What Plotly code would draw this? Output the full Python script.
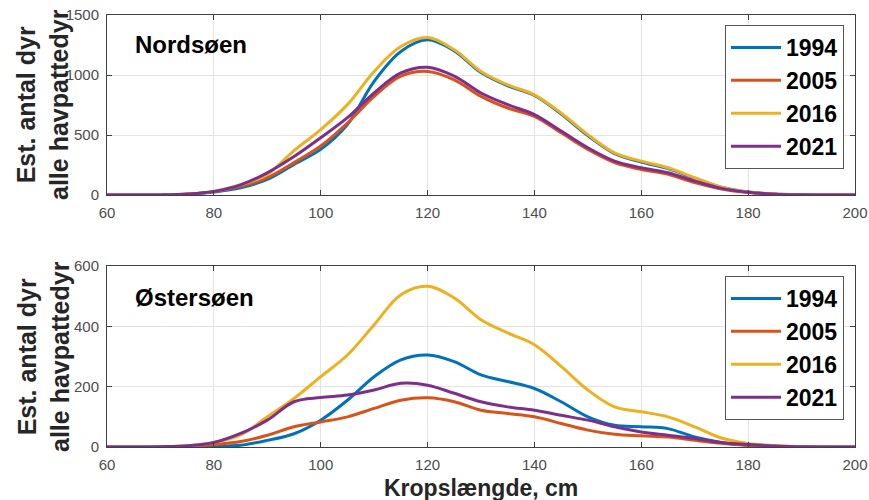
import plotly.graph_objects as go

length_cm = [60, 65, 70, 75, 80, 85, 90, 95, 100, 105, 110, 115, 120, 125, 130, 135, 140,
             145, 150, 155, 160, 165, 170, 175, 180, 185, 190, 195, 200]
years = ["1994", "2005", "2016", "2021"]

nord_1994 = [0, 0, 1, 6, 25, 60, 130, 255, 380, 587, 947, 1196, 1293, 1200, 1020, 910, 830,
             675, 495, 345, 275, 220, 140, 65, 25, 8, 2, 0, 0]
nord_2005 = [0, 0, 1, 7, 28, 72, 144, 270, 408, 600, 822, 990, 1030, 960, 822, 725, 656,
             518, 380, 270, 213, 172, 103, 50, 20, 6, 2, 0, 0]
nord_2016 = [0, 0, 1, 8, 30, 85, 172, 370, 545, 753, 1030, 1237, 1312, 1210, 1030, 918, 835,
             683, 503, 351, 282, 227, 144, 66, 25, 8, 2, 0, 0]
nord_2021 = [0, 0, 1, 8, 30, 85, 185, 320, 477, 644, 850, 1017, 1064, 990, 850, 753, 670,
             533, 394, 283, 227, 186, 116, 55, 22, 7, 2, 0, 0]

oest_1994 = [0, 0, 0, 0, 2, 6, 22, 44, 89, 155, 233, 289, 305, 283, 239, 217, 194,
             150, 100, 72, 67, 61, 33, 15, 6, 2, 1, 0, 0]
oest_2005 = [0, 0, 0, 2, 8, 18, 39, 67, 83, 100, 128, 155, 163, 150, 122, 111, 100,
             78, 56, 42, 37, 33, 22, 12, 5, 2, 1, 0, 0]
oest_2016 = [0, 0, 1, 4, 15, 40, 100, 161, 233, 305, 405, 505, 533, 494, 422, 378, 339,
             267, 189, 133, 117, 100, 67, 30, 12, 5, 1, 0, 0]
oest_2021 = [0, 0, 1, 4, 15, 45, 89, 150, 164, 172, 189, 211, 205, 178, 150, 133, 122,
             105, 89, 67, 50, 39, 28, 15, 8, 3, 1, 0, 0]

colors = ["#0072BD", "#D95319", "#EDB120", "#7E2F8E"]
FONT = "Arial, Liberation Sans, sans-serif"

W, H = 869, 500


def px(xa):
    return xa / W


def py(ya):
    return 1 - ya / H


fig = go.Figure()
for name, ys, c in zip(years, [nord_1994, nord_2005, nord_2016, nord_2021], colors):
    fig.add_trace(go.Scatter(x=length_cm, y=ys, name=name, mode="lines",
                             line=dict(color=c, width=3, shape="spline", smoothing=1.0),
                             xaxis="x", yaxis="y", legend="legend"))
for name, ys, c in zip(years, [oest_1994, oest_2005, oest_2016, oest_2021], colors):
    fig.add_trace(go.Scatter(x=length_cm, y=ys, name=name, mode="lines",
                             line=dict(color=c, width=3, shape="spline", smoothing=1.0),
                             xaxis="x2", yaxis="y2", legend="legend2"))

axis_common = dict(showline=True, linecolor="#404040", linewidth=1, mirror="allticks",
                   ticks="inside", ticklen=5, tickcolor="#404040", automargin=False,
                   showgrid=True, gridcolor="#e3e3e3", gridwidth=1, zeroline=False,
                   ticklabelstandoff=4, ticklabeloverflow="allow",
                   tickfont=dict(family=FONT, size=15, color="#4d4d4d"))

xdom = [px(107), px(855)]
xticks = [60, 80, 100, 120, 140, 160, 180, 200]

legend_common = dict(font=dict(family=FONT, size=23, color="black", weight="bold"),
                     bgcolor="white", bordercolor="#555555", borderwidth=1,
                     xanchor="left", yanchor="top", tracegroupgap=0, itemwidth=50)

ytitle_text = "<b>Est. antal dyr<br>alle havpattedyr</b>"
title_font = dict(family=FONT, size=25, color="#262626")

fig.update_layout(
    width=W, height=H,
    margin=dict(l=0, r=0, t=0, b=0),
    paper_bgcolor="white", plot_bgcolor="white",
    showlegend=True,
    xaxis=dict(domain=xdom, anchor="y", range=[60, 200], tickvals=xticks, **axis_common),
    yaxis=dict(domain=[py(195), py(15)], anchor="x", range=[0, 1500],
               tickvals=[0, 500, 1000, 1500], **axis_common),
    xaxis2=dict(domain=xdom, anchor="y2", range=[60, 200], tickvals=xticks, **axis_common),
    yaxis2=dict(domain=[py(447), py(266)], anchor="x2", range=[0, 600],
                tickvals=[0, 200, 400, 600], **axis_common),
    legend=dict(x=px(725), y=py(25), **legend_common),
    legend2=dict(x=px(725), y=py(276), **legend_common),
    annotations=[
        dict(text="<b>Nordsøen</b>", x=px(133), y=py(45), xref="paper", yref="paper",
             xanchor="left", yanchor="middle", showarrow=False,
             font=dict(family=FONT, size=24, color="black")),
        dict(text="<b>Østersøen</b>", x=px(133), y=py(297), xref="paper", yref="paper",
             xanchor="left", yanchor="middle", showarrow=False,
             font=dict(family=FONT, size=24, color="black")),
        dict(text=ytitle_text, x=px(43), y=py(105), xref="paper", yref="paper",
             xanchor="center", yanchor="middle", textangle=-90, showarrow=False,
             font=title_font),
        dict(text=ytitle_text, x=px(43), y=py(357), xref="paper", yref="paper",
             xanchor="center", yanchor="middle", textangle=-90, showarrow=False,
             font=title_font),
        dict(text="<b>Kropslængde, cm</b>", x=px(481), y=py(488), xref="paper", yref="paper",
             xanchor="center", yanchor="middle", showarrow=False,
             font=dict(family=FONT, size=23, color="#262626")),
    ],
)

fig.write_html("out.html", config={"displayModeBar": False},
               post_script="document.body.style.margin='0';document.body.style.overflow='hidden';")
